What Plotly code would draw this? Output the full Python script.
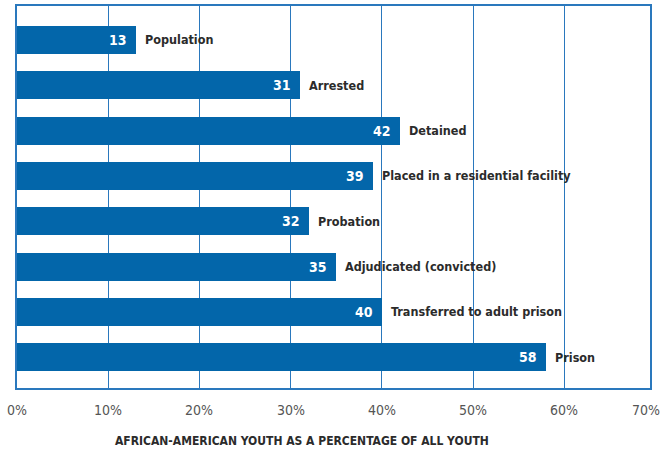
import plotly.graph_objects as go

categories = ["Population", "Arrested", "Detained", "Placed in a residential facility",
              "Probation", "Adjudicated (convicted)", "Transferred to adult prison", "Prison"]
values = [13, 31, 42, 39, 32, 35, 40, 58]
tick_vals = [0, 10, 20, 30, 40, 50, 60, 70]
tick_text = ["0%", "10%", "20%", "30%", "40%", "50%", "60%", "70%"]
x_title = "AFRICAN-AMERICAN YOUTH AS A PERCENTAGE OF ALL YOUTH"

FONT = "DejaVu Sans Condensed, Liberation Sans Narrow, sans-serif"
BLUE = "#0366aa"
GRID = "#2a78bd"
DARK = "#2b2b2b"
X_MAX = 69.4

fig = go.Figure()
fig.add_trace(go.Bar(
    y=categories, x=values, orientation="h",
    marker=dict(color=BLUE, line=dict(width=0)),
    width=0.62,
    hoverinfo="skip",
))

for c, v in zip(categories, values):
    fig.add_annotation(x=v, y=c, xref="x", yref="y", text=str(v), showarrow=False,
                       xanchor="right", yanchor="middle", xshift=-7,
                       font=dict(family=FONT, size=14, color="white", weight="bold"))
    fig.add_annotation(x=v, y=c, xref="x", yref="y", text=c, showarrow=False,
                       xanchor="left", yanchor="middle", xshift=7,
                       font=dict(family=FONT, size=12.5, color=DARK, weight="bold"))

# tick labels (paper coords so the 70% label just outside the frame still shows)
for tv, tt in zip(tick_vals, tick_text):
    if tv > X_MAX:
        fig.add_annotation(x=1, y=0, xref="paper", yref="paper", text=tt, showarrow=False,
                           xanchor="right", yanchor="middle", yshift=-22, xshift=12,
                           font=dict(family=FONT, size=14, color="#555555"))
    else:
        fig.add_annotation(x=tv / X_MAX, y=0, xref="paper", yref="paper", text=tt, showarrow=False,
                           xanchor="center", yanchor="middle", yshift=-22,
                           font=dict(family=FONT, size=14, color="#555555"))

fig.add_annotation(x=0.45, y=0, xref="paper", yref="paper", yshift=-53,
                   text=x_title, showarrow=False, xanchor="center", yanchor="middle",
                   font=dict(family=FONT, size=12, color=DARK, weight="bold"))

fig.update_layout(
    width=663, height=451,
    margin=dict(l=17, r=13, t=6, b=63),
    paper_bgcolor="white", plot_bgcolor="white",
    showlegend=False,
    bargap=0,
    xaxis=dict(range=[0, X_MAX], tickvals=tick_vals, showticklabels=False,
               showgrid=True, gridcolor=GRID, gridwidth=1.2,
               showline=True, linecolor=GRID, linewidth=1.5, mirror=True,
               zeroline=False, ticks="", automargin=False),
    yaxis=dict(type="category", categoryorder="array", categoryarray=categories,
               range=[7.68, -0.75], showticklabels=False, showgrid=False,
               showline=True, linecolor=GRID, linewidth=1.5, mirror=True,
               zeroline=False, ticks="", automargin=False),
)

fig.write_html("out.html", config={"displayModeBar": False},
               post_script="document.body.style.margin='0';document.body.style.overflow='hidden';")
